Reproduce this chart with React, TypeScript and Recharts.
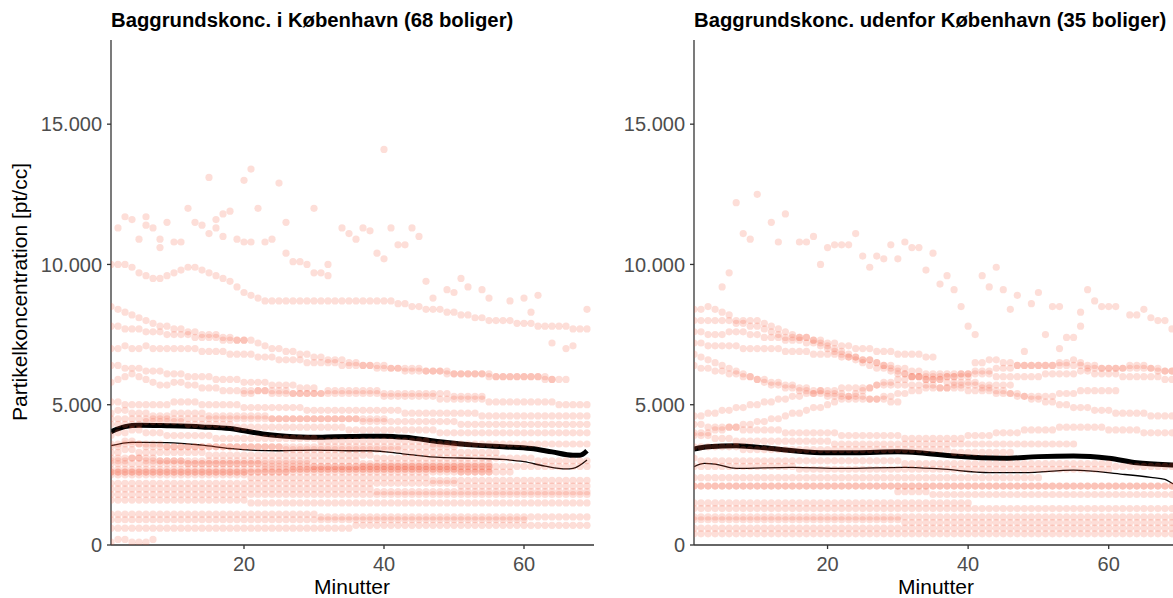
import React from "react";
import { ComposedChart, Scatter, Line, XAxis, YAxis } from "recharts";

const minutTicks = [20, 40, 60];
const koncTicks = [0, 5000, 10000, 15000];

// Målinger pr. bolig, i hundreder pt/cc, én værdi pr. minut fra startminuttet
const kbhSpor: number[][] = [
  [100,100,100,99,97,96,95,95,96,97,98,99,99,98,97,96,95,94,92,90,89,88,87,87,87,87,87,87,87,87,87,87,87,87,87,87,87,87,87,87,87,86,86,85,85,84,84,84,83,83,82,82,81,81,80,80,80,80,79,79,79,78,78,78,78,78,77,77,77],
  [85,84,83,82,81,80,79,78,78,77,77,76,76,75,75,75,74,74,73,73,73,72,71,70,70,69,69,68,68,67,67,66,66,66,65,65,64,64,64,64,63,63,63,63,63,62,62,62,62,61,61,61,61,61,60,60,60,60,60,60,60,60,59,59],
  [70,70,71,70,70,71,70,70,70,70,70,70,70,69,69,69,69,68,68,68,68,67,67,67,66,66,66,66,65,65,65,65,65,64,64,64,64,64,63,63,63,63,62,62,62,62,62,62,61,61,61,61,61,61,61,60,60,60,60,60,60,60,60,59,59,59],
  [58,59,60,61,60,59,58,57,57,58,58,57,57,56,56,56,55,55,55,55,55,55,55,54,54,54,54,54,54,54,54,54,54,54,54,54,54,54,54,53,53,53,53,53,53,53,53,52,52,52,52,52,52,52,51,51,51,51,51,51,51,51,51,51,50,50,50,50,50],
  [51,51,50,50,50,50,50,50,50,51,51,51,51,50,50,50,50,50,50,49,49,49,49,49,49,49,49,49,48,48,48,48,48,48,48,48,48,48,48,48,48,48,47,47,47,47,47,47,47,47,47,47,47,46,46,46,46,46,46,46,46,46,46,46,46,46,46,46,46],
  [47,48,48,47,47,47,46,46,46,47,47,47,47,47,46,46,46,46,46,46,46,46,46,45,45,45,45,45,45,45,45,45,45,45,45,45,44,44,44,44,44,44,44,44,44,44,44,44,44,44,43,43,43,43,43,43,43,43,43,43,43,43,43,43,43,43,43,43,43],
  [43,43,43,43,43,44,44,44,44,44,44,43,43,43,43,43,43,43,42,42,42,42,42,42,42,42,42,42,42,42,42,42,42,42,41,41,41,41,41,41,41,41,41,41,41,41,41,40,40,40,40,40,40,40,40,40,40,40,40,40,40,40,40,40,40,40,40,40,40],
  [39,40,40,41,41,40,40,40,39,39,39,39,39,39,39,38,38,38,38,38,38,38,38,38,38,38,38,38,38,38,37,37,37,37,37,37,37,37,37,37,37,37,37,37,37,37,36,36,36,36,36,36,36,36,36,36,36,36,36,36,36,36,36,36,36,36,36,36,36],
  [36,36,37,37,36,36,36,36,35,35,35,35,35,35,35,35,35,35,35,35,35,35,35,35,35,34,34,34,34,34,34,34,34,34,34,34,34,34,34,34,34,34,33,33,33,33,33,33,33,33,33,33,33,33,33,33],
  [33,33,34,34,33,33,33,33,33,33,33,33,33,33,32,32,32,32,32,32,32,32,32,32,32,32,32,32,32,32,32,32,32,32,32,32,32,32,31,31,31,31,31,31,31,31,31,31,31,31,31,31,31,31,31,31,31,31,31,31,31,30,30,30,30,30,30,30,30],
  [31,31,31,31,31,31,31,30,30,30,30,30,30,30,30,30,30,30,30,30,30,30,30,30,30,30,30,30,30,30,30,30,30,30,30,30,29,29,29,29,29,29,29,29,29,29,29,29,29,29,29,29,29,29,29],
  [29,29,29,29,29,29,29,29,29,29,29,29,29,29,29,29,29,29,29,29,29,29,29,29,29,29,29,29,29,28,28,28,28,28,28,28,28,28,28,28,28,28,28,28,28,28,28,28,28,28,28,28,28,28,28,28,28,28,28,28,28,28,28,28,28,28,28,28,28],
  [27,27,27,27,27,27,27,27,27,27,27,27,27,27,27,27,27,27,27,27,27,27,27,27,27,27,27,27,27,27,27,27,27,27,27,27,27,27,27,27,27,27,27,27,27,27,27,27,27,27,27,27,27,27,27],
  [26,26,26,26,26,26,26,26,26,26,26,26,26,26,26,26,26,26,26,26,26,26,26,26,26,26,27,27,27,27,27,27,27,27,27,27,27,27,27,27,27,27,27,27,27,27,27,27,27,27,26,26,26,26,26,26,26,26],
  [25,25,25,25,25,25,25,25,25,25,25,25,25,25,25,25,25,25,25,25,24,24,24,24,24,24,24,24,24,24,24,24,24,24,24,24,24,24,24,24,24,24,24,24,24,24,23,23,23,23,23,23,23,23,23,23,23,23,23,23,23,23,23,23,23,23,23,23,23],
  [22,22,22,22,22,22,22,22,22,22,22,22,22,22,22,22,22,22,22,22,22,22,22,22,22,22,22,22,22,22,22,22,22,22,22,22,22,22,22,22,22,22,22,22,22,22,22,22,22,22,21,21,21,21,21,21,21,21,21,21,21,21,21,21,21,21,21,21,21],
  [20,20,20,20,20,20,20,20,20,20,20,20,20,20,20,20,20,20,20,20,20,20,20,20,20,20,20,20,20,20,20,20,20,20,20,20,20,20,19,19,19,19,19,19,19,19,19,19,19,19,19,19,19,19,19,19,19,19,19,19,19,19,19,19,19,19,19,19,19],
  [18,18,18,18,18,18,18,18,18,18,18,18,18,18,18,18,18,18,18,18,18,18,18,18,18,18,18,18,18,18,18,18,18,18,18,18,18,18,18,18,18,18,18,18,18,18,18,18,18,18,18,18,18,18,18,18,18,18,18,18,18,18,18,18,18,18,18,18,18],
  [16,16,16,16,16,16,16,16,16,16,16,16,16,16,16,16,16,16,16,16,15,15,15,15,15,15,15,15,15,15,15,15,15,15,15,15,15,15,15,15,15,15,15,15,15,15,15,15,15,15,15,15,15,15,15,15,15,15,15,15,15,15,15,15,15,15,15,15,15],
  [11,11,11,11,11,11,11,11,11,11,11,11,11,11,11,11,11,11,11,11,11,11,11,11,11,11,11,11,11,11,10,10,10,10,10,10,10,10,10,10,10,10,10,10,10,10,10,10,10,10,10,10,10,10,10,10,10,10,10,10,10,10,10,10,10,10,10,10,10],
  [9,9,9,9,9,9,9,9,9,9,9,9,9,9,9,9,9,9,9,9,9,9,9,9,9,9,9,9,9,9,9,9,9,9,9,9,9,9,9,9,9,9,9,9,9,9,9,9,9,9,9,9,9,9,9,9,9,9,9,9],
  [6,6,6,6,6,6,6,6,6,6,6,6,6,6,6,6,6,6,6,6,6,6,6,6,6,6,6,6,6,6,6,6,6,6,6,7,7,7,7,7,7,7,7,7,7,7,7,7,7,7,7,7,7,7,7,7,7,7,7,7,7,7,7,7,7,7,7,7,7],
  [1,2,2,1,1,1,2],
  [54,54,55,55,55,55,55,54,54,54,54,54,55,55,55,55,55,55,55,55,54,54,54,54,54,54,54,54,54,54,53,53,53,53,53],
  [30,30,30,31,31,30,30,30,30,30,30,29,29,29,29,29,29,29,29,29,29,29,28,28,28,28,28,28,28,28,28,28,28,28,28,28,28,28,28,28,28,28,28,28,28,28,28,28,28,28,28,28,28,28,28],
  [35,35,36,36,36,35,35,35,35,35,35,35,35,35,35,35,35,35,35,35,35,35,35,35,35,35,35,35,35,35,35,35,35,35,35,35,35,35,35,35,35,35,35,35,35,35,35,35,35,35],
  [45,45,45,45,45,45,45,45,45,45,45,45,45,45,45,45,45,45,45,45,45,45,45,45,45,45,45,45,45,45,45,45,45,45,45,45,45,45,45,45],
  [64,64,63,63,63,62,62,62,61,61,61,60,60,60,60,59,59,59,59,58,58,58,58,57,57,57,57,56,56,56],
  [78,78,77,77,77,76,76,76,75,75,75,75,74,74,74,74,73,73,73,73],
  [26,26,26,26,26,26,26,26,26,26,26,26,26,26,26,26,26,26,26,26,26,26,26,26,26,26,26,26,26,26,26,26,26,26,26,26,26,26,26,26,26,26,26,26,26,26,26,26,26,26,26,26,26,26,26],
];
const kbhStart = [1,1,1,1,1,1,1,1,1,1,1,1,1,1,1,1,1,1,1,1,1,1,1,20,1,1,1,1,1,1];

// enkeltstående høje målinger [minut, hundreder pt/cc]
const kbhSpredte: number[][] = [
  [2,113],[3,117],[4,116],[6,117],[6,114],[7,113],[5,109],[8,109],[8,106],[9,115],[10,108],[11,108],
  [12,120],[13,115],[14,114],[15,131],[15,111],[16,116],[16,113],[17,118],[18,119],[17,110],[19,109],
  [20,108],[20,130],[21,134],[22,120],[21,108],[23,108],[24,109],[25,129],[26,115],[26,104],[27,101],
  [28,101],[29,100],[30,120],[30,97],[31,97],[32,96],[32,100],[34,113],[35,111],[36,109],[37,113],
  [38,112],[39,104],[40,102],[40,141],[41,113],[42,107],[43,107],[44,113],[45,110],[46,94],[47,88],
  [49,91],[50,90],[51,95],[52,92],[54,91],[55,88],[58,87],[60,88],[61,83],[62,89],[64,72],[66,70],
  [67,71],[69,84],
];

const udenSpor: number[][] = [
  [84,84,85,84,83,82,80,80,80,80,79,78,77,76,75,74,74,73,72,71,70,69,68,67,66,66,65,64,64,63,63,62,62,61,61,61,60,60,60,60],
  [80,80,80,80,80,80,79,79,78,78,77,76,75,74,74,74,74,73,73,72,72,71,71,70,70,70,69,69,69,68,68,68,68,67,67],
  [76,76,75,75,75,76,76,76,75,75,74,74,74,73,73,73,72,72,71,70,69,68,67,66,65,64,63,63,62,61,61,60,60,59,59,59,58,58,58,58,58,57,57,57,57,57],
  [72,72,71,71,71,71,71,70,70,70,70,70,70,69,69,69,69,68,68,68,68,67,67,67,66,66,65,64,63,62,61,60,60,59,59,59,60,60,61,61,62,62,62,63,63,63,64,64,64,64,64,64,64,64,64,64,63,63,63,63,63,63,63,63,63,63,62,62,62],
  [68,67,66,65,64,63,62,61,60,59,58,57,57,56,56,55,55,54,54,53,53,53,52,52,52,52,52,53,53,54,54,55,55,56,56,56,56,57,57,57,57,56,56,55,55,54,54,53,53,53,53,53,54,54,54,55,55,55,55,55,55],
  [39,40,40,41,41,42,42,43,43,44,44,45,45,46,47,47,48,49,49,50,51,52,53,54,55,56,57,58,58,59,59,60,60,60,60,60,61,61,61,61,61,61,61,60,60,60,60,60,60,60,61,61,61,61,61,62,62,61,61,61,61,60,60,60,60,60,60,59,59],
  [46,46,47,47,48,48,49,49,50,50,51,51,52,52,53,53,54,54,55,55,55,56,56,56,56,56,57,57,57,57,57,57,57,57,57,56,56,56,56,55,55,55,55,54,54,54,53,53,52,52,51,51,50,50,49,49,49,48,48,48,47,47,47,47,47,46,46,46,46],
  [43,43,42,42,42,42,42,41,41,41,41,41,41,40,40,40,40,40,40,40,40,39,39,39,39,39,39,39,39,39,38,38,38,38,38,38,38,38,38,39,39,39,39,40,40,40,40,41,41,41,41,41,42,42,42,42,42,42,42,41,41,41,41,41,40,40,40,40,40],
  [40,39,39,38,38,38,37,37,37,37,37,37,37,37,37,37,37,37,37,37,36,36,36,36,36,36,36,36,36,36,36,36,36,36,36,36,36,36,36,36,36,36,36,36,36,36,36,36,36,36,36,36,36,36,36],
  [35,35,35,35,35,35,35,34,34,34,34,34,34,34,34,34,34,34,34,34,34,34,34,34,34,34,34,34,34,34,34,34,34,34,34,34,34,33,33,33,33,33,33,33,33,33],
  [31,30,30,30,30,30,30,30,30,30,30,30,30,30,30,30,30,30,30,30,30,30,30,30,30,30,30,30,30,30,29,29,29,29,29,29,29,29,29,29,29,29,29,29,29,29,29,29,29,29,29,29,29,29,29,29,29,29,29,29,28,28,28,28,28,28,28,28,28],
  [28,28,28,28,28,28,28,28,28,28,28,28,28,28,28,27,27,27,27,27,27,27,27,27,27,27,27,27,27,27,27,27,27,27,27,27,27,27,27,27,27,27,27,27,27,27,27,27,27,27,27,27,27,27,27,27,27,27,27,27],
  [24,24,24,24,24,24,24,24,24,24,24,24,24,24,24,24,24,24,24,24,24,24,24,24,24,24,24,24,24,24,24,24,24,24,24,24,24,24,24,24,24,24,24,24,24,24,24,24,24,24],
  [21,21,21,21,21,21,21,21,21,21,21,21,21,21,21,21,21,21,21,21,21,21,21,21,21,21,21,21,21,21,21,21,21,21,21,21,21,21,21,21,21,21,21,21,21,21,21,21,21,21,21,21,21,21,21,21,21,21,21,21,21,21,21,21,21,21,21,21,21],
  [21,21,21,21,21,21,21,21,21,21,21,21,21,21,21,21,21,21,21,21,21,21,21,21,21,21,21,21,21,21,21,21,21,21,21,21,21,21,21,21,21,21,21,21,21,21,21,21,21,21,21,21,21,21,21,21,21,21,21,21,21,21,21,21,21,21,21,21,21],
  [19,19,19,19,19,18,18,18,18,18,18,18,18,18,18,18,18,18,18,18,18,18,18,18,18,18,18,18,18,18,18,18,18,18,18,18,18,18,18,18],
  [15,15,15,15,15,15,15,15,15,15,15,15,15,15,15,15,15,15,15,15,15,15,15,15,15,15,15,15,15,15,15,15,15,15,15,15,15,15,15,15],
  [13,13,13,13,13,13,13,13,13,13,13,13,13,13,13,13,13,13,13,13,13,13,13,13,13,13,13,13,13,13,13,13,13,13,13,13,13,13,13,13,13,13,13,13,13,13,13,13,13,13,13,13,13,13,13,13,13,13,13,13,13,13,13,13,13,13,13,13,13],
  [10,10,10,10,10,10,10,10,10,10,10,10,10,10,10,10,10,10,10,10,10,10,10,10,10,10,10,10,10,10,10,10,10,10,10,10,10,10,10,10,10,10,10,10,10,10,10,10,10,10,10,10,10,10,10,10,10,10,10,10,10,10,10,10,10,10,10,10,10],
  [9,9,9,9,9,9,9,9,9,9,9,9,9,9,9,9,9,9,9,9,9,9,9,9,9,9,9,9,9,9,8,8,8,8,8,8,8,8,8,8,8,8,8,8,8,8,8,8,8,8,8,8,8,8,8,8,8,8,8,8,8,8,8,8,8,8,8,8,8],
  [6,6,6,6,6,6,6,6,6,6,6,6,6,6,6,6,6,6,6,6,6,6,6,6,6,6,6,6,6,6,6,6,6,6,6,6,6,6,6,6,6,6,6,6,6,6,6,6,6,6,6,6,6,6,6,6,6,6,6,6,6,6,6,6,6,6,6,6,6],
  [4,4,4,4,4,4,4,4,4,4,4,4,4,4,4,4,4,4,4,4,4,4,4,4,4,4,4,4,4,4,4,4,4,4,4,4,4,4,4,4,4,4,4,4,4,4,4,4,4,4,4,4,4,4,4,4,4,4,4,4,4,4,4,4,4,4,4,4,4],
  [65,65,66,66,65,65,64,64,64,64,64,64,65,65,66,65,64,64,63,63,63,63,64,64,64,63,63,62,62],
  [64,63,63,62,62,61,61,60,60,59,59,58,58,57,57,56,56,55,55,54,54,54,53,53,53,52,52,52,51,51],
];
const udenStart = [1,1,1,1,1,1,1,1,1,1,1,1,1,1,1,30,1,1,1,1,1,1,41,1];

const udenSpredte: number[][] = [
  [5,92],[6,97],[7,122],[10,125],[8,111],[9,109],[12,115],[13,108],[14,118],[16,108],[17,108],[18,110],
  [19,100],[20,106],[21,107],[22,107],[23,107],[24,111],[25,103],[26,99],[27,103],[28,102],[29,107],
  [30,102],[31,108],[32,106],[33,106],[34,98],[35,104],[36,93],[37,96],[38,91],[39,85],[40,78],[41,75],
  [42,96],[43,92],[44,99],[45,91],[46,84],[47,89],[48,69],[49,86],[50,90],[51,75],[52,85],[53,85],
  [53,70],[54,74],[55,74],[56,83],[56,78],[57,91],[58,87],[59,85],[60,85],[61,85],[63,82],[64,82],
  [65,84],[66,81],[67,80],[68,80],[69,77],
];

// glattede kurver: gennemsnit (tyk) og median (tynd)
const kbhMiddelMin = [1,3,5,9,14,18,20,23,26,30,33,36,40,43,48,53,57,61,64,67,68,69];
const kbhMiddel = [4040,4220,4270,4250,4210,4150,4070,3950,3880,3840,3860,3870,3880,3840,3680,3560,3500,3440,3320,3200,3200,3360];
const kbhMedianMin = [1,4,9,14,18,21,25,30,35,38,43,48,53,57,60,63,66,67,69];
const kbhMedian = [3540,3660,3650,3560,3440,3380,3360,3380,3360,3360,3240,3120,3090,3050,2970,2810,2710,2730,3030];

const udenMiddelMin = [1,3,7,12,19,24,30,33,38,45,50,55,60,64,69,70];
const udenMiddel = [3420,3500,3540,3440,3290,3290,3320,3290,3170,3090,3150,3170,3090,2930,2850,2840];
const udenMedianMin = [1,2.5,4,7,15,22,31,36,43,48,55,62,66,68,69,70];
const udenMedian = [2790,2910,2880,2730,2770,2730,2770,2710,2580,2580,2670,2520,2410,2340,2200,2100];

function punkter(spor: number[][], start: number[], spredte: number[][]) {
  const ud: { x: number; y: number }[] = [];
  spor.forEach((s, i) =>
    s.forEach((v, j) => {
      const m = start[i] + j;
      if (m <= 69) ud.push({ x: m, y: v * 100 });
    })
  );
  spredte.forEach(([m, v]) => ud.push({ x: m, y: v * 100 }));
  return ud;
}

const kurve = (min: number[], val: number[]) => min.map((m, i) => ({ x: m, y: val[i] }));

const fmt = (v: number) => String(v).replace(/\B(?=(\d{3})+(?!\d))/g, ".");

const Prik = (p: any) => (
  <circle cx={p.cx} cy={p.cy} r={3.6} fill="#F4583A" fillOpacity={0.2} />
);

const FONT = '"Liberation Sans", Arial, sans-serif';

function Panel({ data, middel, median, yw, right }: any) {
  return (
    <ComposedChart width={600} height={598} margin={{ top: 40, right, bottom: 0, left: 0 }}>
      <XAxis
        type="number"
        dataKey="x"
        domain={[1, 70]}
        ticks={minutTicks}
        allowDataOverflow
        height={53}
        tickSize={4}
        tickMargin={8}
        tick={{ fill: "#4d4d4d", fontSize: 20, fontFamily: FONT }}
        axisLine={{ stroke: "#333", strokeWidth: 1.3 }}
        tickLine={{ stroke: "#333", strokeWidth: 1.3 }}
      />
      <YAxis
        type="number"
        dataKey="y"
        domain={[0, 18000]}
        ticks={koncTicks}
        allowDataOverflow
        width={yw}
        tickSize={4}
        tickMargin={5}
        tickFormatter={fmt}
        tick={{ fill: "#4d4d4d", fontSize: 20, fontFamily: FONT }}
        axisLine={{ stroke: "#333", strokeWidth: 1.3 }}
        tickLine={{ stroke: "#333", strokeWidth: 1.3 }}
      />
      <Scatter data={data} shape={Prik} isAnimationActive={false} />
      <Line data={middel} dataKey="y" type="monotone" stroke="#000" strokeWidth={5} dot={false} isAnimationActive={false} />
      <Line data={median} dataKey="y" type="monotone" stroke="#000" strokeWidth={1.3} dot={false} isAnimationActive={false} />
    </ComposedChart>
  );
}

export default function App() {
  const titel = { position: "absolute" as const, top: 8, fontFamily: FONT, fontWeight: 700, fontSize: 20.3, lineHeight: "24px", color: "#000", whiteSpace: "nowrap" as const };
  const xlab = { position: "absolute" as const, top: 576, width: 200, textAlign: "center" as const, fontFamily: FONT, fontSize: 21, lineHeight: "22px", color: "#000" };
  return (
    <div style={{ position: "absolute", left: 0, top: 0, width: 1173, height: 598, overflow: "hidden", background: "#fff" }}>
      <div style={{ position: "absolute", left: 0, top: 0 }}>
        <Panel data={punkter(kbhSpor, kbhStart, kbhSpredte)} middel={kurve(kbhMiddelMin, kbhMiddel)} median={kurve(kbhMedianMin, kbhMedian)} yw={111} right={6} />
      </div>
      <div style={{ position: "absolute", left: 600, top: 0 }}>
        <Panel data={punkter(udenSpor, udenStart, udenSpredte)} middel={kurve(udenMiddelMin, udenMiddel)} median={kurve(udenMedianMin, udenMedian)} yw={94} right={21} />
      </div>
      <div style={{ ...titel, left: 111 }}>Baggrundskonc. i København (68 boliger)</div>
      <div style={{ ...titel, left: 694 }}>Baggrundskonc. udenfor København (35 boliger)</div>
      <div style={{ ...xlab, left: 252 }}>Minutter</div>
      <div style={{ ...xlab, left: 836 }}>Minutter</div>
      <div
        style={{
          position: "absolute",
          left: 20 - 200,
          top: 292 - 11,
          width: 400,
          textAlign: "center",
          transform: "rotate(-90deg)",
          fontFamily: FONT,
          fontSize: 21,
          lineHeight: "22px",
          color: "#000",
        }}
      >
        Partikelkoncentration [pt/cc]
      </div>
    </div>
  );
}
